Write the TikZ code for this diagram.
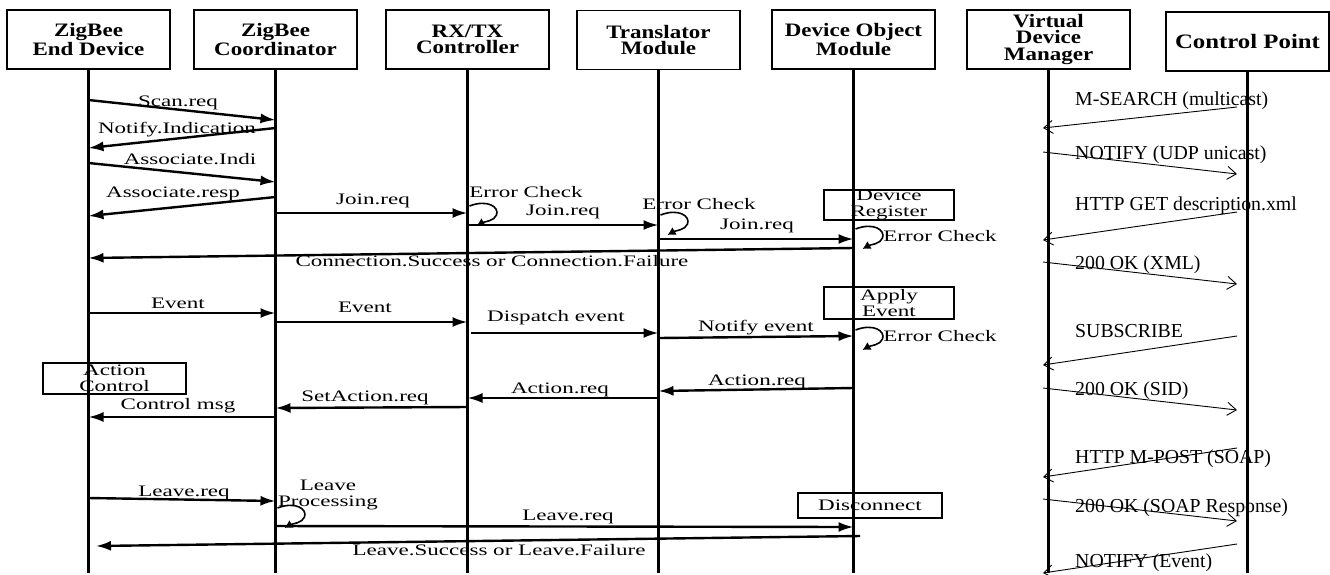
\documentclass[tikz,border=0pt]{standalone}
\usepackage{fontspec}
\setmainfont{Liberation Serif}
\newfontfamily\lblfont[FakeStretch=1.44]{Liberation Serif}
\newfontfamily\hdfont[FakeStretch=1.21]{Liberation Serif}
\usetikzlibrary{arrows.meta}
\tikzset{
  hdr/.style={draw, line width=1.6pt, minimum width=163pt, minimum height=59pt, inner sep=0pt, align=center,
    font=\hdfont\bfseries\fontsize{19}{16.5}\selectfont},
  life/.style={line width=2.2pt},
  msg/.style={line width=2.4pt, -{Latex[length=15pt,width=10pt]}},
  lbl/.style={inner sep=0pt, text height=10.5pt, text depth=3.5pt, font=\lblfont\fontsize{16}{15}\selectfont},
  lbltwo/.style={inner sep=0pt, align=center, font=\lblfont\fontsize{16}{16}\selectfont},
  ubox/.style={draw, line width=1.2pt, inner sep=0pt, align=center, font=\lblfont\fontsize{16}{15.5}\selectfont},
  rmsg/.style={line width=0.9pt, -{Straight Barb[length=9pt,width=13pt,line width=0.9pt]}},
  rlbl/.style={inner sep=0pt, anchor=base west, font=\fontsize{19.8}{20}\selectfont},
  selfcirc/.pic={\draw[line width=1.6pt,-{Latex[length=8pt,width=9pt]}] (2,-8) .. controls (20,-15) and (32,-7) .. (29,1) .. controls (27,7) and (16,8) .. (9,12);}
}
\begin{document}
\begin{tikzpicture}[x=1pt,y=-1pt]
\useasboundingbox (0,0) rectangle (1330,574);
% headers
\node[hdr] (ED) at (88.5,39.5) {ZigBee\\End Device};
\node[hdr] (CO) at (275.5,39.5) {ZigBee\\Coordinator};
\node[hdr] (RX) at (467.5,39.5) {RX/TX\\Controller};
\node[hdr] (TR) at (658.5,40) {Translator\\Module};
\node[hdr] (DO) at (853.5,39.5) {Device Object\\Module};
\node[hdr] (VM) at (1048.5,39.5) {Virtual\\Device\\Manager};
\node[hdr, font=\hdfont\bfseries\fontsize{20.5}{18}\selectfont] (CP) at (1247.5,41.5) {Control Point};
% lifelines
\foreach \n in {ED,CO,RX,TR,DO,VM,CP}{\draw[life] (\n.south) -- (\n |- 0,573);}
% ZigBee messages
\draw[msg] (ED |- 0,100) -- (CO |- 0,120);
\node[lbl] (t1) at (178,103) {Scan.req};
\draw[msg] (CO |- 0,128) -- (ED |- 0,148);
\node[lbl] (t2) at (177,130) {Notify.Indication};
\draw[msg] (ED |- 0,163) -- (CO |- 0,182);
\node[lbl] (t3) at (190,161) {Associate.Indi};
\draw[msg] (CO |- 0,197) -- (ED |- 0,216);
\node[lbl] (t4) at (173,194) {Associate.resp};
\draw[msg] (CO |- 0,213) -- (RX |- 0,213);
\node[lbl] (t5) at (373,201) {Join.req};
\pic at (RX |- 0,214) {selfcirc};
\node[lbl] (t6) at (526,194) {Error Check};
\draw[msg] (RX |- 0,225) -- (TR |- 0,225);
\node[lbl] (t7) at (563,212) {Join.req};
\pic at (TR |- 0,223) {selfcirc};
\node[lbl] (t8) at (699,206) {Error Check};
\draw[msg] (TR |- 0,239) -- (DO |- 0,239);
\node[lbl] (t9) at (757,226) {Join.req};
\node[ubox, minimum width=130pt, minimum height=30pt] (b1) at (889,205) {Device\\Register};
\pic at (DO |- 0,237) {selfcirc};
\node[lbl] (t10) at (940,238) {Error Check};
\draw[msg] (DO |- 0,248) -- (ED |- 0,258);
\node[lbl] (t11) at (492,263) {Connection.Success or Connection.Failure};
% events
\draw[msg] (ED |- 0,313) -- (CO |- 0,313);
\node[lbl] (t12) at (178,305) {Event};
\draw[msg] (CO |- 0,322) -- (RX |- 0,322);
\node[lbl] (t13) at (365,309) {Event};
\coordinate (dpA) at (471,333);
\draw[msg] (dpA) -- (TR |- 0,333);
\node[lbl] (t14) at (556,318) {Dispatch event};
\draw[msg] (TR |- 0,338) -- (DO |- 0,336);
\node[lbl] (t15) at (756,328) {Notify event};
\node[ubox, minimum width=130pt, minimum height=32pt] (b2) at (889,303) {Apply\\Event};
\pic at (DO |- 0,338) {selfcirc};
\node[lbl] (t16) at (940,338) {Error Check};
% actions
\node[ubox, minimum width=143pt, minimum height=31pt] (b3) at (114.5,378.5) {Action\\Control};
\draw[msg] (DO |- 0,388) -- (TR |- 0,391);
\node[lbl] (t17) at (757,382) {Action.req};
\draw[msg] (TR |- 0,398) -- (RX |- 0,398);
\node[lbl] (t18) at (560,390) {Action.req};
\draw[msg] (RX |- 0,407) -- (CO |- 0,408);
\node[lbl] (t19) at (365,398) {SetAction.req};
\draw[msg] (CO |- 0,417) -- (ED |- 0,417);
\node[lbl] (t20) at (178,406) {Control msg};
% leave
\draw[msg] (ED |- 0,498) -- (CO |- 0,501);
\node[lbl] (t21) at (184,493) {Leave.req};
\node[lbltwo] (t22) at (328,495) {Leave\\Processing};
\pic at (CO |- 0,516) {selfcirc};
\draw[msg] (CO |- 0,526) -- (DO |- 0,527);
\node[lbl] (t23) at (568,517) {Leave.req};
\node[ubox, minimum width=144pt, minimum height=25pt] (b4) at (870,505.5) {Disconnect};
\coordinate (lsA) at (860,536);
\coordinate (lsB) at (96,546);
\draw[msg] (lsA) -- (lsB);
\node[lbl] (t24) at (499,552) {Leave.Success or Leave.Failure};
% UPnP side
\coordinate (vL) at (1043,0);
\coordinate (cR) at (1237,0);
\node[rlbl] (r1) at (1075,105) {M-SEARCH (multicast)};
\draw[rmsg] (cR |- 0,107) -- (vL |- 0,128);
\node[rlbl] (r2) at (1075,159) {NOTIFY (UDP unicast)};
\draw[rmsg] (vL |- 0,152) -- (cR |- 0,174);
\node[rlbl] (r3) at (1075,210) {HTTP GET description.xml};
\draw[rmsg] (cR |- 0,212) -- (vL |- 0,240);
\node[rlbl] (r4) at (1075,269) {200 OK (XML)};
\draw[rmsg] (vL |- 0,262) -- (cR |- 0,284);
\node[rlbl] (r5) at (1075,337) {SUBSCRIBE};
\draw[rmsg] (cR |- 0,336) -- (vL |- 0,365);
\node[rlbl] (r6) at (1075,395) {200 OK (SID)};
\draw[rmsg] (vL |- 0,388) -- (cR |- 0,410);
\node[rlbl] (r7) at (1075,463) {HTTP M-POST (SOAP)};
\draw[rmsg] (cR |- 0,448) -- (vL |- 0,477);
\node[rlbl] (r8) at (1075,512) {200 OK (SOAP Response)};
\draw[rmsg] (vL |- 0,499) -- (cR |- 0,521);
\node[rlbl] (r9) at (1075,567) {NOTIFY (Event)};
\draw[rmsg] (cR |- 0,544) -- (vL |- 0,573);
\end{tikzpicture}
\end{document}
